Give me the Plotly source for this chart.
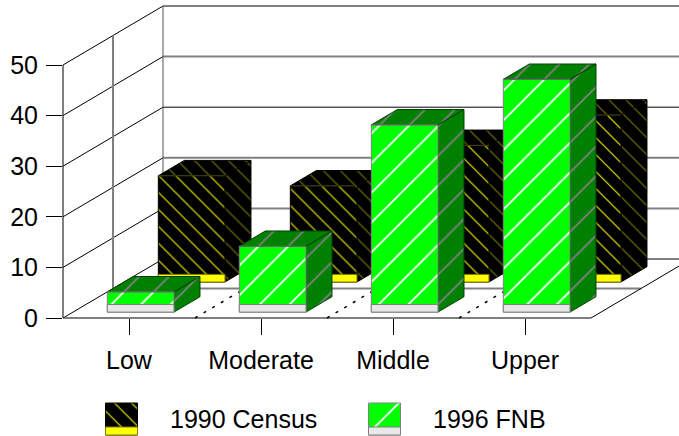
import plotly.graph_objects as go

# ---- data ----
categories = ["Low", "Moderate", "Middle", "Upper"]
census_1990 = [21, 19, 27, 33]
fnb_1996 = [4, 13, 37, 46]
series_names = ["1990 Census", "1996 FNB"]
y_ticks = [0, 10, 20, 30, 40, 50]
wall_colors = ["#808080", "#808080", "#808080", "#000000", "#808080", "#808080"]
wall_widths = [2, 2, 2, 1, 2, 2]

# ---- layout constants ----
W, H = 679, 436
ML, MR, MT, MB = 63, 88, 65, 118
PX_X = (W - ML - MR) / len(categories)
PX_Y = (H - MT - MB) / 50
DEPTH_X = 100 / PX_X      # depth 1 in x units
DEPTH_Y = 59 / PX_Y       # depth 1 in y units
BAR_L, BAR_W = 0.26, 0.505
BAND = 1.5
FONT = "Liberation Sans, Arial, sans-serif"
FS = 25

def P(x, v, d=0.0):
    return x + d * DEPTH_X, v + d * DEPTH_Y

def px(x, y):
    return (x - ML) / PX_X, (H - MB - y) / PX_Y

fig = go.Figure()

def line(points, color="#000000", width=1, dash="solid"):
    xs, ys = zip(*points)
    fig.add_trace(go.Scatter(x=xs, y=ys, mode="lines", hoverinfo="skip", showlegend=False,
                             line=dict(color=color, width=width, dash=dash)))

def poly(points, edge, bg, fg=None, shape="", size=20, solidity=0.075, width=1, name=None):
    xs, ys = zip(*(list(points) + [points[0]]))
    kw = {}
    if fg:
        kw["fillpattern"] = dict(shape=shape, bgcolor=bg, fgcolor=fg, fgopacity=1,
                                 size=size, solidity=solidity, fillmode="replace")
    fig.add_trace(go.Scatter(x=xs, y=ys, mode="lines", fill="toself", fillcolor=bg,
                             hoverinfo="skip", showlegend=False, name=name,
                             line=dict(color=edge, width=width), **kw))

def bar3d(cat, val, d0, d1, s):
    x0 = cat + BAR_L
    x1 = x0 + BAR_W
    # side and top faces
    poly([P(x1, 0, d0), P(x1, 0, d1), P(x1, val, d1), P(x1, val, d0)],
         s["side_edge"], s["side_bg"], s["side_fg"], s["shape"], s["size"], s["sol"])
    poly([P(x0, val, d0), P(x1, val, d0), P(x1, val, d1), P(x0, val, d1)],
         s["side_edge"], s["side_bg"], s["side_fg"], s["shape"], s["size"], s["sol"])
    # front face
    poly([P(x0, 0, d0), P(x1, 0, d0), P(x1, val, d0), P(x0, val, d0)],
         s["edge"], s["bg"], s["fg"], s["shape"], s["size"], s["sol"], name=s["name"])
    # base band
    poly([P(x0, 0, d0), P(x1, 0, d0), P(x1, BAND, d0), P(x0, BAND, d0)],
         s["band_edge"], s["band"])
    line([P(x0, val, d0), P(x1, val, d0)], s["top_edge"])

black = dict(name=series_names[0], bg="#000000", fg="#FFFF00", shape="\\", size=12, sol=0.085,
             edge="#000000", side_bg="#000000", side_fg="#808000", side_edge="#000000",
             band="#FFFF00", band_edge="#808000", top_edge="#4A4A10")
green = dict(name=series_names[1], bg="#00FF00", fg="#FFFFFF", shape="/", size=21, sol=0.09,
             edge="#808080", side_bg="#008000", side_fg="#808080", side_edge="#004000",
             band="#E8E8E8", band_edge="#808080", top_edge="#606060")

n = len(categories)
# walls and floor
for v, c, w in zip(y_ticks, wall_colors, wall_widths):
    line([P(0, v, 0), P(0, v, 1)])
    line([P(0, v, 1), P(n, v, 1)], c, w)
line([P(0, 0, 0), P(n, 0, 0)], "#555555", 1.5)
line([P(0, 0, 0), P(0, 50, 0)])
line([P(0, 0, 0.5), P(0, 50, 0.5)], "#808080", 2)
line([P(0, 0, 1), P(0, 50, 1)], "#555555", 1)
line([P(0, 0, 0.5), P(n, 0, 0.5)], "#808080", 2)
line([P(n, 0, 0), P(n, 0, 1)], "#000000", 1)
for i in range(1, n):
    line([P(i, 0, 0), P(i, 0, 1)], "#000000", 1.5, "3px,7px")

# bars, back row first
for i, v in enumerate(census_1990):
    bar3d(i, v, 0.61, 0.87, black)
for i, v in enumerate(fnb_1996):
    bar3d(i, v, 0.10, 0.36, green)

# legend
def swatch(x0, s):
    x1, y0, y1, yb = x0 + 32, 403, 435, 427
    corners = lambda a, b: [px(x0, a), px(x1, a), px(x1, b), px(x0, b)]
    poly(corners(y0, y1), s["edge"], s["bg"], s["fg"], s["shape"], s["size"], s["sol"], name=s["name"])
    poly(corners(yb, y1), s["band_edge"], s["band"])

swatch(105.5, black)
swatch(368.5, green)

annotations = [dict(text=t, x=xp / W, y=1 - 419 / H, xref="paper", yref="paper",
                    xanchor="left", yanchor="middle", showarrow=False,
                    font=dict(family=FONT, size=FS, color="#000000"))
               for t, xp in zip(series_names, (168, 431))]

# empty trace that carries the visible tick axes
fig.add_trace(go.Scatter(x=[None], y=[None], xaxis="x2", yaxis="y2", mode="lines",
                         showlegend=False, hoverinfo="skip"))

fig.update_layout(
    width=W, height=H, autosize=False,
    margin=dict(l=0, r=0, t=0, b=0, pad=0, autoexpand=False),
    paper_bgcolor="#FFFFFF", plot_bgcolor="rgba(0,0,0,0)",
    showlegend=False, hovermode=False, annotations=annotations,
    font=dict(family=FONT, size=FS, color="#000000"),
    xaxis=dict(range=[-ML / PX_X, (W - ML) / PX_X], domain=[0, 1], visible=False, fixedrange=True),
    yaxis=dict(range=[-MB / PX_Y, (H - MB) / PX_Y], domain=[0, 1], visible=False, fixedrange=True),
    xaxis2=dict(range=[0, n], domain=[ML / W, (W - MR) / W], anchor="y2",
                tickmode="array", tickvals=[i + 0.5 for i in range(n)],
                ticktext=categories, ticks="outside", ticklen=16, tickwidth=1, tickcolor="#000000",
                showgrid=False, zeroline=False, showline=False, ticklabelstandoff=4,
                tickfont=dict(family=FONT, size=FS), fixedrange=True),
    yaxis2=dict(range=[0, 50], domain=[MB / H, (H - MT) / H], anchor="x2",
                tickmode="array", tickvals=y_ticks, ticks="outside", ticklen=16,
                tickwidth=1, tickcolor="#000000", showgrid=False, zeroline=False, showline=False,
                ticklabelstandoff=3, tickfont=dict(family=FONT, size=FS), fixedrange=True),
)

fig.write_html("out.html", config={"displayModeBar": False},
               post_script="document.body.style.margin='0';document.documentElement.style.overflow='hidden';")
